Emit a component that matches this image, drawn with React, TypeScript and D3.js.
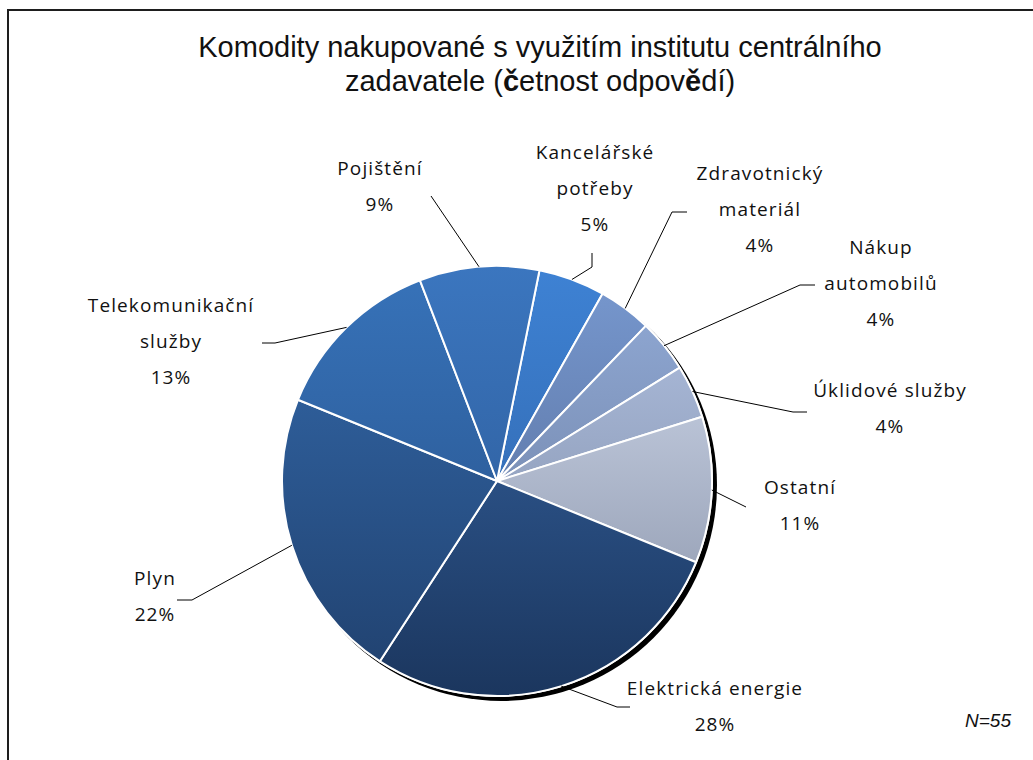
import React from "react";
import * as d3 from "d3";

const categories = [
  "Kancelářské potřeby",
  "Zdravotnický materiál",
  "Nákup automobilů",
  "Úklidové služby",
  "Ostatní",
  "Elektrická energie",
  "Plyn",
  "Telekomunikační služby",
  "Pojištění",
];
const values = [5, 4, 4, 4, 11, 28, 22, 13, 9];
const labelLines = [
  ["Kancelářské", "potřeby", "5%"],
  ["Zdravotnický", "materiál", "4%"],
  ["Nákup", "automobilů", "4%"],
  ["Úklidové služby", "4%"],
  ["Ostatní", "11%"],
  ["Elektrická energie", "28%"],
  ["Plyn", "22%"],
  ["Telekomunikační", "služby", "13%"],
  ["Pojištění", "9%"],
];
const titleLines = ["Komodity nakupované s využitím institutu centrálního", "zadavatele (četnost odpovědí)"];
const note = "N=55";

// colors: [top, bottom] of vertical gradient across the pie
const sliceColors = [
  ["#3e82d4", "#2c5ea0"],
  ["#7899d0", "#4d638e"],
  ["#93acd8", "#647698"],
  ["#b3c3e4", "#78869f"],
  ["#d6dff1", "#848ea4"],
  ["#3868a8", "#1b365e"],
  ["#346aac", "#20406d"],
  ["#3773ba", "#264e84"],
  ["#3b76bf", "#295590"],
];

// layout: label centre x, first line centre y, leader bend/end points
const labelLayout = [
  { x: 595, y: 152, leader: [[592, 267], [592, 253]] },
  { x: 760, y: 173, leader: [[672, 212], [687, 212]] },
  { x: 881, y: 247, leader: [[800, 285], [815, 285]] },
  { x: 890, y: 390, leader: [[793, 412], [807, 412]] },
  { x: 800, y: 487, leader: [[746, 507]] },
  { x: 715, y: 688, leader: [[617, 707], [630, 707]] },
  { x: 155, y: 578, leader: [[192, 600], [177, 600]] },
  { x: 171, y: 305, leader: [[275, 343], [262, 343]] },
  { x: 380, y: 168, leader: [[431, 196]] },
];

const W = 1033;
const H = 760;
const cx = 497;
const cy = 481;
const R = 215;
const startDeg = 11.4;
const lineGap = 36;

export default function App() {
  const pie = d3
    .pie<number>()
    .sort(null)
    .value((d) => d)
    .startAngle((startDeg * Math.PI) / 180)
    .endAngle((startDeg * Math.PI) / 180 + 2 * Math.PI);
  const arcs = pie(values);
  const arc = d3.arc<d3.PieArcDatum<number>>().innerRadius(0).outerRadius(R);

  return (
    <svg
      width={W}
      height={H}
      style={{ position: "absolute", left: 0, top: 0, background: "#fff" }}
    >
      <defs>
        {sliceColors.map((c, i) => (
          <linearGradient
            key={i}
            id={`g${i}`}
            gradientUnits="userSpaceOnUse"
            x1={0}
            y1={-R}
            x2={0}
            y2={R}
          >
            <stop offset="0" stopColor={c[0]} />
            <stop offset="1" stopColor={c[1]} />
          </linearGradient>
        ))}
        <filter id="blur" x="-10%" y="-10%" width="120%" height="120%">
          <feGaussianBlur stdDeviation="0.6" />
        </filter>
      </defs>
      <rect x={0} y={0} width={W} height={H} fill="#fff" />
      <rect
        x={8}
        y={10}
        width={W + 20}
        height={H + 20}
        fill="#fff"
        stroke="#1e1e1e"
        strokeWidth={2}
      />
      <g fontFamily="'Liberation Sans Narrow', 'Liberation Sans', Arial, sans-serif" fontSize={29} fill="#111" textAnchor="middle">
        <text x={540} y={57}>{titleLines[0]}</text>
        <text x={540} y={91}>
          zadavatele (<tspan fontWeight="bold">č</tspan>etnost odpov<tspan fontWeight="bold">ě</tspan>dí)
        </text>
      </g>
      <circle cx={cx + 4} cy={cy + 4} r={R + 1} fill="#000" filter="url(#blur)" />
      <circle cx={cx} cy={cy} r={R + 1} fill="#fff" />
      <g transform={`translate(${cx},${cy})`}>
        {arcs.map((a, i) => (
          <path
            key={categories[i]}
            d={arc(a) || ""}
            fill={`url(#g${i})`}
            stroke="#fff"
            strokeWidth={2}
            strokeLinejoin="round"
          />
        ))}
      </g>
      <g fill="none" stroke="#000" strokeWidth={1}>
        {arcs.map((a, i) => {
          const mid = (a.startAngle + a.endAngle) / 2;
          const ex = cx + Math.sin(mid) * R;
          const ey = cy - Math.cos(mid) * R;
          const pts = [[ex, ey], ...labelLayout[i].leader];
          return <polyline key={i} points={pts.map((p) => p.join(",")).join(" ")} />;
        })}
      </g>
      <g fontFamily="'Open Sans', 'DejaVu Sans', sans-serif" fontSize={19} fill="#111" textAnchor="middle" letterSpacing={1.1}>
        {labelLines.map((lines, i) =>
          lines.map((t, j) => (
            <text
              key={`${i}-${j}`}
              x={labelLayout[i].x}
              y={labelLayout[i].y + j * lineGap}
              dy="0.36em"
            >
              {t}
            </text>
          ))
        )}
      </g>
      <text
        x={1011}
        y={720}
        dy="0.36em"
        textAnchor="end"
        fontFamily="'Liberation Sans', Arial, sans-serif"
        fontStyle="italic"
        fontSize={19}
        fill="#111"
      >
        {note}
      </text>
    </svg>
  );
}
